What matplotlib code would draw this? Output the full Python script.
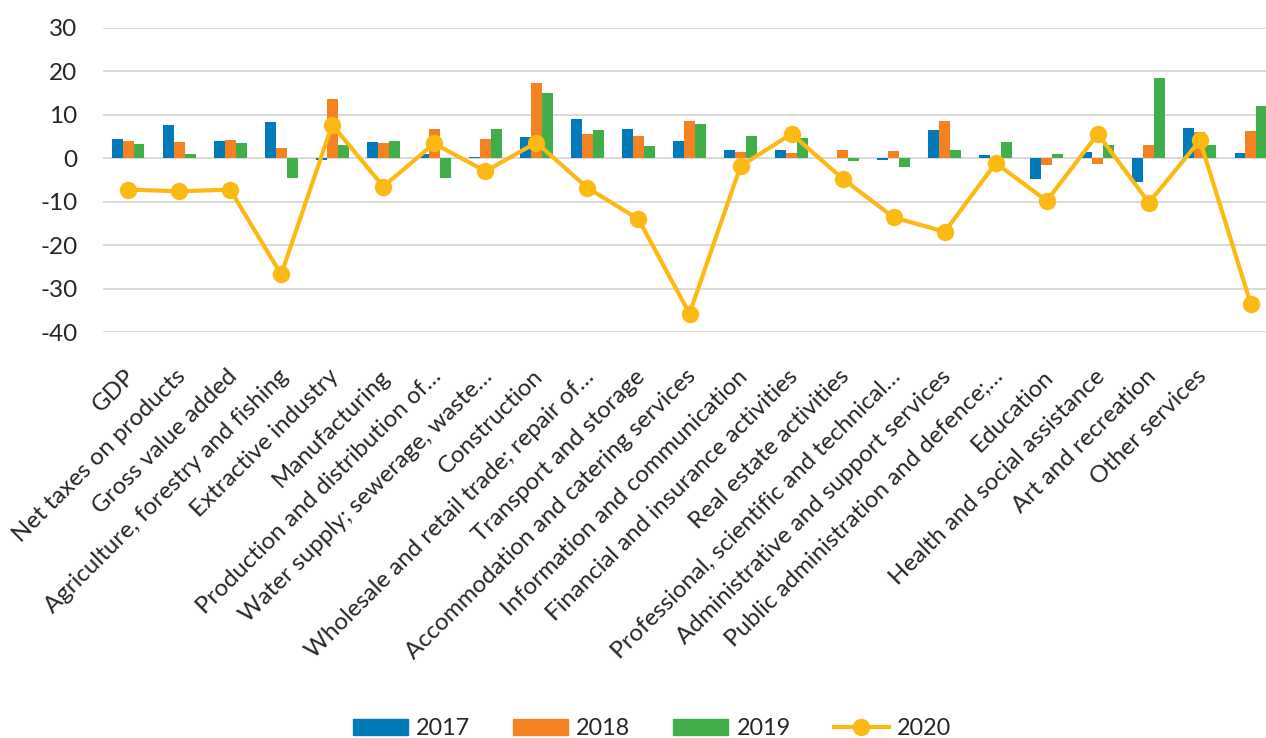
import numpy as np
import matplotlib
matplotlib.use("Agg")
import matplotlib.pyplot as plt
import matplotlib.transforms as mtransforms
from matplotlib.lines import Line2D
from matplotlib.patches import Patch

plt.rcParams['font.family'] = ['Lato', 'DejaVu Sans']
plt.rcParams['axes.unicode_minus'] = False

# categories (the last group has no label in the source chart)
categories = [
    "GDP", "Net taxes on products", "Gross value added",
    "Agriculture, forestry and fishing", "Extractive industry", "Manufacturing",
    "Production and distribution of…", "Water supply; sewerage, waste…",
    "Construction", "Wholesale and retail trade; repair of…",
    "Transport and storage", "Accommodation and catering services",
    "Information and communication", "Financial and insurance activities",
    "Real estate activities", "Professional, scientific and technical…",
    "Administrative and support services", "Public administration and defence;…",
    "Education", "Health and social assistance", "Art and recreation",
    "Other services", "",
]

y2017 = [4.5, 7.6, 4.0, 8.3, -0.5, 3.7, 0.9, 0.3, 4.9, 9.0, 6.7, 3.9,
         1.8, 1.8, 0.15, -0.4, 6.6, 0.7, -4.7, 1.5, -5.4, 6.9, 1.2]
y2018 = [4.0, 3.7, 4.1, 2.4, 13.6, 3.4, 6.8, 4.4, 17.3, 5.5, 5.1, 8.5,
         1.5, 1.1, 1.9, 1.7, 8.5, 0.3, -1.5, -1.3, 3.0, 6.0, 6.3]
y2019 = [3.2, 1.0, 3.6, -4.5, 3.0, 4.0, -4.5, 6.7, 15.0, 6.5, 2.7, 7.8,
         5.1, 4.7, -0.6, -1.9, 1.9, 3.7, 1.0, 3.0, 18.5, 3.0, 12.1]
y2020 = [-7.2, -7.6, -7.2, -26.7, 7.7, -6.5, 3.4, -3.0, 3.6, -6.8, -14.0, -35.7,
         -1.8, 5.6, -4.7, -13.6, -16.9, -1.1, -9.8, 5.6, -10.2, 4.1, -33.6]

years = ["2017", "2018", "2019", "2020"]
c_blue = "#007AB8"
c_orange = "#F58220"
c_green = "#40AE49"
c_line = "#FDB913"

W, H = 1266, 738
fig = plt.figure(figsize=(W / 100, H / 100), dpi=100)
# plot area runs past the right edge, as in the reference
left = 102.5 / W
right = 1276.5 / W
top = 1 - 27.7 / H
bottom = 1 - 332.3 / H
ax = fig.add_axes([left, bottom, right - left, top - bottom])

x = np.arange(len(categories))
bw = 0.215
ax.bar(x - bw, y2017, bw, color=c_blue, zorder=2)
ax.bar(x, y2018, bw, color=c_orange, zorder=2)
ax.bar(x + bw, y2019, bw, color=c_green, zorder=2)
ax.plot(x, y2020, color=c_line, lw=3, marker='o', ms=11.5, zorder=3)

ax.set_xlim(-0.5, len(categories) - 0.5)
ax.set_ylim(-40, 30)
ax.set_yticks(np.arange(-40, 31, 10))
ax.yaxis.grid(True, color="#D9D9D9", lw=1.4, zorder=0)
ax.set_axisbelow(True)
for s in ax.spines.values():
    s.set_visible(False)
ax.tick_params(axis='both', length=0, colors="#262626")
ax.tick_params(axis='y', pad=18, labelsize=17.5)
ax.tick_params(axis='x', pad=24, labelsize=17.3)

ax.set_xticks(x)
ax.set_xticklabels(categories, rotation=45, ha='right', va='top',
                   rotation_mode='anchor')
shift = mtransforms.ScaledTranslation(-4 / 100, 0, fig.dpi_scale_trans)
for lab in ax.get_xticklabels():
    lab.set_transform(lab.get_transform() + shift)

handles = [
    Patch(color=c_blue, label=years[0]),
    Patch(color=c_orange, label=years[1]),
    Patch(color=c_green, label=years[2]),
    Line2D([0], [0], color=c_line, lw=3, marker='o', ms=11.5, label=years[3]),
]
fig.legend(handles=handles, loc='lower center', bbox_to_anchor=(0.515, -0.03),
           ncol=4, frameon=False, fontsize=16.8, handlelength=2.35,
           handleheight=0.65, handletextpad=0.35, columnspacing=1.85,
           labelcolor="#262626")

fig.savefig("out.png", dpi=100)
